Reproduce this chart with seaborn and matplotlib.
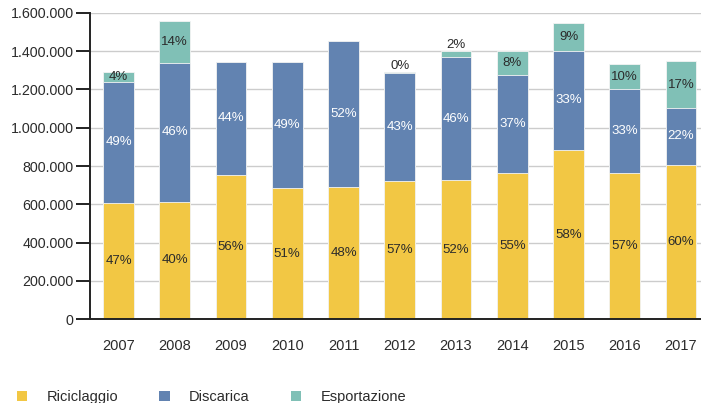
import matplotlib
matplotlib.use("Agg")
import numpy as np
import pandas as pd
import matplotlib.pyplot as plt
import seaborn as sns
from matplotlib.patches import Patch
from matplotlib.ticker import FuncFormatter

# --- Data (tonnes) ---
YEARS = ["2007", "2008", "2009", "2010", "2011", "2012",
         "2013", "2014", "2015", "2016", "2017"]
RICICLAGGIO = [608000, 614000, 753000, 685000, 689000, 723000,
               727000, 762000, 885000, 762000, 807000]
DISCARICA = [630000, 723000, 591000, 659000, 765000, 561000,
             640000, 513000, 515000, 438000, 297000]
ESPORTAZIONE = [54000, 221000, 0, 0, 0, 5000,
                31000, 123000, 146000, 134000, 242000]

PCT_RIC = ["47%", "40%", "56%", "51%", "48%", "57%", "52%", "55%", "58%", "57%", "60%"]
PCT_DIS = ["49%", "46%", "44%", "49%", "52%", "43%", "46%", "37%", "33%", "33%", "22%"]
PCT_ESP = ["4%", "14%", "", "", "", "0%", "2%", "8%", "9%", "10%", "17%"]

SERIES = ["Riciclaggio", "Discarica", "Esportazione"]

# --- Style ---
YELLOW = "#F2C744"
BLUE = "#6283B1"
TEAL = "#80C0B6"
DARK = "#2b2b2b"

sns.set_theme(style="white")
plt.rcParams["font.family"] = ["Liberation Sans", "DejaVu Sans"]

W, H = 701, 403
fig = plt.figure(figsize=(W / 100, H / 100), dpi=100)
ax = fig.add_axes([90.4 / W, 1 - 319.3 / H, 618.75 / W, (319.3 - 12.7) / H])

df = pd.DataFrame({
    "year": YEARS,
    "ric": RICICLAGGIO,
    "dis": DISCARICA,
    "esp": ESPORTAZIONE,
})
df["top_dis"] = df["ric"] + df["dis"]
df["top_esp"] = df["top_dis"] + df["esp"]

# stacked by overlaying cumulative totals, tallest first
bar_kw = dict(order=YEARS, width=0.55, edgecolor="#f4f4f4", linewidth=0.6, ax=ax)
sns.barplot(data=df, x="year", y="top_esp", color=TEAL, saturation=1, **bar_kw)
sns.barplot(data=df, x="year", y="top_dis", color=BLUE, saturation=1, **bar_kw)
sns.barplot(data=df, x="year", y="ric", color=YELLOW, saturation=1, **bar_kw)

# percentage labels
LBL = 9.5
for i, row in df.iterrows():
    ax.text(i, row["ric"] / 2, PCT_RIC[i], ha="center", va="center",
            fontsize=LBL, color=DARK)
    ax.text(i, row["ric"] + row["dis"] / 2, PCT_DIS[i], ha="center", va="center",
            fontsize=LBL, color="white")
    if PCT_ESP[i]:
        if row["esp"] >= 40000:
            ax.text(i, row["top_dis"] + row["esp"] / 2, PCT_ESP[i], ha="center",
                    va="center", fontsize=LBL, color=DARK)
        else:
            ax.text(i, row["top_esp"] + 3000, PCT_ESP[i], ha="center",
                    va="bottom", fontsize=LBL, color=DARK)

# axes
ax.set_xlim(-0.5, len(YEARS) - 0.5)
ax.set_ylim(0, 1600000)
ax.set_yticks(np.arange(0, 1600001, 200000))
ax.yaxis.set_major_formatter(FuncFormatter(lambda v, p: f"{int(v):,}".replace(",", ".")))
ax.set_xticks(range(len(YEARS)))
ax.set_xticklabels(YEARS)
ax.set_xticks(np.arange(-0.5, len(YEARS), 1), minor=True)
ax.tick_params(axis="x", which="major", length=0, pad=14, labelsize=10.5, labelcolor=DARK)
ax.tick_params(axis="x", which="minor", length=11, width=1.4, color="#222222", direction="out")
ax.tick_params(axis="y", length=10, width=1.4, color="#222222", direction="out",
               pad=2, labelsize=10.3, labelcolor=DARK, left=True)
ax.set_xlabel("")
ax.set_ylabel("")

ax.yaxis.grid(True, color="#cccccc", linewidth=1)
ax.set_axisbelow(True)
for side in ["top", "right"]:
    ax.spines[side].set_visible(False)
for side in ["left", "bottom"]:
    ax.spines[side].set_color("#222222")
    ax.spines[side].set_linewidth(1.4)

# legend at the bottom (partly cut off in the original)
handles = [Patch(facecolor=c, edgecolor="none") for c in [YELLOW, BLUE, TEAL]]
fig.legend(handles, SERIES, loc="center left", bbox_to_anchor=(17 / W, 1 - 397 / H),
           ncol=3, frameon=False, fontsize=10.5, handlelength=0.7, handleheight=0.7,
           handletextpad=1.35, columnspacing=2.8, borderpad=0, borderaxespad=0,
           labelcolor=DARK)

fig.savefig("out.png", dpi=100)
